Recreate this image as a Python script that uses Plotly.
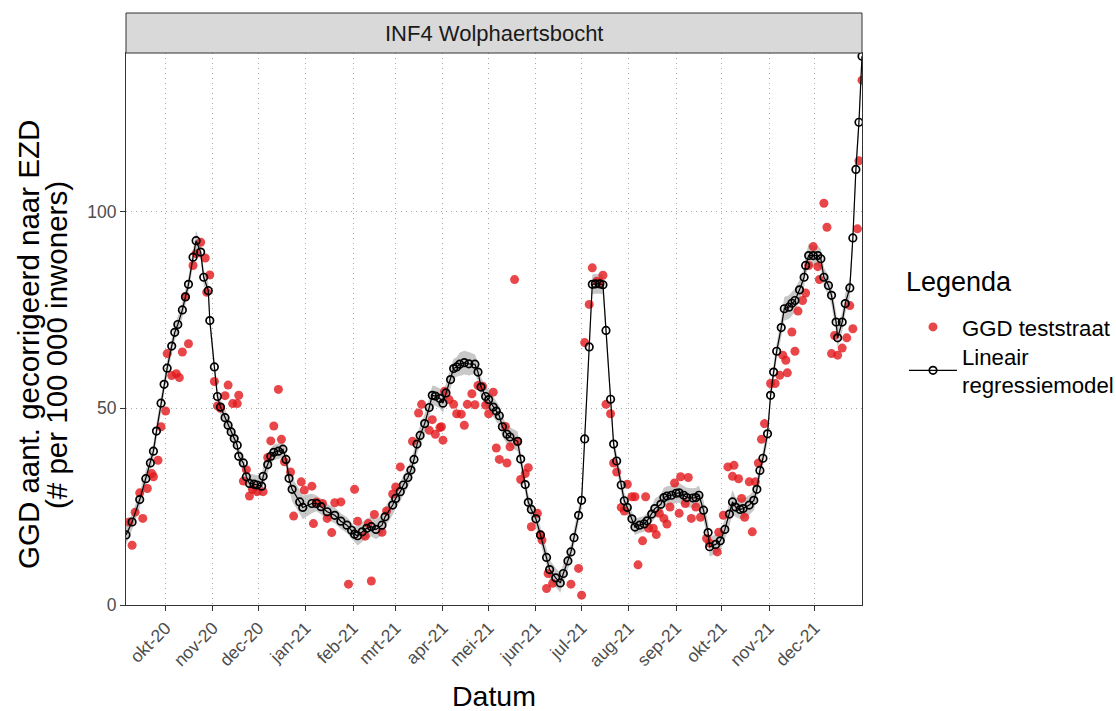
import plotly.graph_objects as go

# Facet label
station = "INF4 Wolphaertsbocht"

# Linear regression model: sampling dates, fitted value and half-width of the confidence band
model_dates = [
    "2020-09-05", "2020-09-09", "2020-09-14", "2020-09-18", "2020-09-21", "2020-09-23", "2020-09-25",
    "2020-09-28", "2020-09-30", "2020-10-02", "2020-10-05", "2020-10-07", "2020-10-09", "2020-10-12",
    "2020-10-14", "2020-10-16", "2020-10-19", "2020-10-21", "2020-10-24", "2020-10-26", "2020-10-29",
    "2020-10-30", "2020-11-02", "2020-11-04", "2020-11-06", "2020-11-09", "2020-11-11", "2020-11-13",
    "2020-11-15", "2020-11-17", "2020-11-18", "2020-11-21", "2020-11-23", "2020-11-25", "2020-11-28",
    "2020-11-30", "2020-12-03", "2020-12-04", "2020-12-07", "2020-12-09", "2020-12-11", "2020-12-14",
    "2020-12-17", "2020-12-19", "2020-12-21", "2020-12-23", "2020-12-28", "2020-12-30", "2021-01-05",
    "2021-01-08", "2021-01-11", "2021-01-15", "2021-01-20", "2021-01-24", "2021-01-28", "2021-01-31",
    "2021-02-02", "2021-02-04", "2021-02-07", "2021-02-10", "2021-02-13", "2021-02-16", "2021-02-20",
    "2021-02-22", "2021-02-27", "2021-03-01", "2021-03-04", "2021-03-06", "2021-03-09", "2021-03-11",
    "2021-03-13", "2021-03-15", "2021-03-17", "2021-03-20", "2021-03-23", "2021-03-25", "2021-03-27",
    "2021-03-30", "2021-04-01", "2021-04-03", "2021-04-06", "2021-04-08", "2021-04-10", "2021-04-12",
    "2021-04-15", "2021-04-18", "2021-04-22", "2021-04-24", "2021-04-26", "2021-04-29", "2021-05-01",
    "2021-05-04", "2021-05-06", "2021-05-08", "2021-05-10", "2021-05-13", "2021-05-15", "2021-05-20",
    "2021-05-22", "2021-05-25", "2021-05-27", "2021-05-29", "2021-06-01", "2021-06-04", "2021-06-08",
    "2021-06-10", "2021-06-14", "2021-06-17", "2021-06-19", "2021-06-22", "2021-06-24", "2021-06-26",
    "2021-06-29", "2021-07-01", "2021-07-03", "2021-07-06", "2021-07-08", "2021-07-10", "2021-07-13",
    "2021-07-15", "2021-07-17", "2021-07-20", "2021-07-22", "2021-07-24", "2021-07-27", "2021-07-29",
    "2021-07-31", "2021-08-03", "2021-08-05", "2021-08-08", "2021-08-11", "2021-08-13", "2021-08-16",
    "2021-08-18", "2021-08-22", "2021-08-24", "2021-08-26", "2021-08-29", "2021-09-01", "2021-09-03",
    "2021-09-06", "2021-09-08", "2021-09-12", "2021-09-14", "2021-09-16", "2021-09-19", "2021-09-22",
    "2021-09-23", "2021-09-27", "2021-09-30", "2021-10-03", "2021-10-06", "2021-10-08", "2021-10-10",
    "2021-10-13", "2021-10-15", "2021-10-19", "2021-10-22", "2021-10-24", "2021-10-26", "2021-10-28",
    "2021-10-31", "2021-11-02", "2021-11-04", "2021-11-06", "2021-11-09", "2021-11-11", "2021-11-14",
    "2021-11-16", "2021-11-18", "2021-11-21", "2021-11-24", "2021-11-25", "2021-11-27", "2021-11-30",
    "2021-12-03", "2021-12-05", "2021-12-07", "2021-12-10", "2021-12-12", "2021-12-15", "2021-12-16",
    "2021-12-19", "2021-12-21", "2021-12-24", "2021-12-26", "2021-12-28", "2021-12-30", "2022-01-01",
]
model_values = [
    17.8, 21.1, 26.8, 32.1, 36.1, 39.1, 44.2,
    51.3, 56.1, 60.2, 65.8, 69.3, 71.3, 75.0,
    78.3, 81.5, 88.4, 92.6, 89.7, 83.3, 79.9,
    72.3, 60.5, 53.0, 50.3, 47.6, 45.7, 44.0,
    42.3, 40.6, 37.8, 36.1, 32.6, 30.9, 30.7,
    30.5, 30.2, 32.7, 35.7, 37.8, 38.8, 39.1,
    39.6, 37.0, 32.2, 29.4, 26.2, 24.8, 25.8,
    25.8, 25.0, 23.7, 22.8, 21.3, 20.3, 19.0,
    18.0, 17.6, 18.6, 19.5, 19.9, 19.2, 20.3,
    22.4, 25.4, 27.1, 28.8, 30.5, 32.4, 34.3,
    37.0, 40.9, 43.1, 46.1, 50.2, 53.3, 53.1,
    52.5, 51.3, 53.9, 57.3, 60.1, 60.5, 61.2,
    61.6, 61.3, 61.2, 59.2, 55.4, 53.0, 52.2,
    50.3, 49.3, 48.1, 45.3, 43.4, 42.7, 41.6,
    37.1, 30.6, 26.1, 24.3, 21.9, 17.8, 12.1,
    9.0, 6.9, 5.6, 8.0, 11.2, 13.5, 17.1,
    22.8, 26.6, 42.2, 65.6, 81.5, 81.6, 81.6,
    81.4, 69.8, 52.3, 40.9, 36.6, 30.5, 26.5,
    24.8, 21.9, 19.8, 20.3, 20.6, 21.4, 23.1,
    24.5, 25.6, 27.3, 27.7, 27.9, 28.4, 28.5,
    27.9, 27.3, 27.2, 27.3, 27.9, 24.1, 18.4,
    14.8, 15.4, 16.3, 19.2, 23.1, 26.2, 24.9,
    24.3, 24.5, 25.4, 26.6, 29.4, 34.2, 37.3,
    43.5, 53.3, 59.2, 64.5, 70.5, 75.3, 75.7,
    76.7, 77.4, 80.1, 83.3, 86.3, 88.8, 88.8,
    88.8, 88.0, 83.3, 81.2, 78.7, 71.9, 67.9,
    71.9, 76.6, 80.6, 93.3, 110.7, 122.7, 139.5,
]
band_halfwidth = [
    2.5, 2.0, 2.0, 2.0, 2.0, 2.0, 2.0,
    2.0, 2.0, 2.0, 2.0, 2.0, 2.0, 2.0,
    2.0, 2.0, 2.0, 2.5, 2.0, 2.0, 2.0,
    2.0, 2.0, 2.0, 2.0, 2.0, 2.0, 2.0,
    2.0, 2.0, 2.0, 2.0, 2.0, 2.5, 2.5,
    2.5, 2.5, 2.5, 2.0, 2.0, 2.0, 2.0,
    2.0, 2.0, 2.5, 3.0, 3.0, 3.0, 2.5,
    2.0, 2.0, 2.0, 2.0, 2.0, 2.0, 2.0,
    2.0, 2.5, 2.5, 2.5, 2.5, 2.5, 2.5,
    2.5, 2.5, 2.5, 2.5, 2.5, 2.5, 2.5,
    2.5, 2.5, 2.5, 2.5, 2.5, 2.5, 2.5,
    2.5, 2.5, 2.5, 2.5, 2.5, 2.5, 3.0,
    3.0, 3.0, 2.5, 2.5, 2.5, 2.5, 2.5,
    2.5, 2.5, 2.5, 2.5, 2.5, 2.5, 2.5,
    2.0, 2.0, 2.0, 2.0, 2.0, 2.0, 2.0,
    2.5, 2.5, 2.5, 2.5, 2.0, 2.0, 2.0,
    2.0, 2.0, 2.0, 2.0, 2.5, 2.5, 2.5,
    2.5, 2.0, 2.0, 2.0, 2.0, 2.0, 2.0,
    2.0, 2.0, 2.0, 2.0, 2.0, 2.0, 2.0,
    2.5, 2.5, 2.5, 2.5, 2.5, 2.5, 2.5,
    2.5, 2.5, 2.5, 2.5, 2.5, 2.5, 2.5,
    2.5, 2.5, 2.5, 2.5, 3.0, 3.0, 2.5,
    2.5, 2.5, 2.5, 2.5, 2.5, 2.0, 2.0,
    2.0, 2.0, 2.0, 2.0, 2.5, 3.0, 3.0,
    3.0, 3.0, 2.5, 2.5, 2.5, 3.0, 2.5,
    2.5, 2.5, 2.5, 2.5, 2.5, 2.5, 2.5,
    2.5, 2.5, 2.5, 2.5, 2.5, 2.5, 2.5,
]

# GGD test street observations (corrected for population)
obs_dates = [
    "2020-09-07", "2020-09-09", "2020-09-11", "2020-09-14", "2020-09-16", "2020-09-19", "2020-09-22",
    "2020-09-23", "2020-09-26", "2020-09-28", "2020-10-01", "2020-10-02", "2020-10-05", "2020-10-08",
    "2020-10-10", "2020-10-12", "2020-10-14", "2020-10-16", "2020-10-19", "2020-10-21", "2020-10-24",
    "2020-10-27", "2020-10-28", "2020-10-30", "2020-11-02", "2020-11-04", "2020-11-06", "2020-11-09",
    "2020-11-11", "2020-11-14", "2020-11-17", "2020-11-18", "2020-11-21", "2020-11-23", "2020-11-25",
    "2020-11-27", "2020-11-30", "2020-12-04", "2020-12-07", "2020-12-09", "2020-12-11", "2020-12-14",
    "2020-12-16", "2020-12-18", "2020-12-22", "2020-12-24", "2020-12-29", "2020-12-31", "2021-01-05",
    "2021-01-06", "2021-01-08", "2021-01-12", "2021-01-15", "2021-01-18", "2021-01-20", "2021-01-24",
    "2021-01-29", "2021-02-02", "2021-02-04", "2021-02-09", "2021-02-11", "2021-02-13", "2021-02-15",
    "2021-02-20", "2021-02-23", "2021-02-27", "2021-03-01", "2021-03-04", "2021-03-12", "2021-03-16",
    "2021-03-18", "2021-03-23", "2021-03-25", "2021-03-27", "2021-03-30", "2021-03-31", "2021-04-01",
    "2021-04-02", "2021-04-05", "2021-04-08", "2021-04-10", "2021-04-13", "2021-04-15", "2021-04-17",
    "2021-04-20", "2021-04-22", "2021-04-24", "2021-04-27", "2021-04-29", "2021-05-01", "2021-05-04",
    "2021-05-06", "2021-05-08", "2021-05-12", "2021-05-13", "2021-05-15", "2021-05-18", "2021-05-20",
    "2021-05-22", "2021-05-25", "2021-05-27", "2021-05-29", "2021-06-02", "2021-06-04", "2021-06-05",
    "2021-06-08", "2021-06-09", "2021-06-12", "2021-06-24", "2021-06-29", "2021-07-01", "2021-07-03",
    "2021-07-06", "2021-07-08", "2021-07-11", "2021-07-13", "2021-07-15", "2021-07-17", "2021-07-20",
    "2021-07-22", "2021-07-24", "2021-07-27", "2021-07-29", "2021-07-31", "2021-08-03", "2021-08-05",
    "2021-08-07", "2021-08-10", "2021-08-12", "2021-08-14", "2021-08-17", "2021-08-19", "2021-08-21",
    "2021-08-24", "2021-08-26", "2021-08-28", "2021-08-31", "2021-09-03", "2021-09-04", "2021-09-07",
    "2021-09-09", "2021-09-11", "2021-09-14", "2021-09-17", "2021-09-21", "2021-09-23", "2021-09-28",
    "2021-09-29", "2021-10-02", "2021-10-05", "2021-10-08", "2021-10-09", "2021-10-12", "2021-10-14",
    "2021-10-16", "2021-10-19", "2021-10-21", "2021-10-23", "2021-10-25", "2021-10-27", "2021-10-29",
    "2021-11-02", "2021-11-05", "2021-11-08", "2021-11-10", "2021-11-12", "2021-11-13", "2021-11-16",
    "2021-11-18", "2021-11-20", "2021-11-23", "2021-11-25", "2021-11-27", "2021-11-30", "2021-12-03",
    "2021-12-04", "2021-12-07", "2021-12-09", "2021-12-12", "2021-12-14", "2021-12-16", "2021-12-19",
    "2021-12-22", "2021-12-24", "2021-12-26", "2021-12-29", "2021-12-30", "2022-01-01",
]
obs_values = [
    21.1, 15.2, 23.6, 28.5, 22.0, 29.6, 33.4,
    32.6, 36.8, 45.3, 49.3, 63.9, 58.3, 58.8,
    57.8, 64.3, 78.4, 66.4, 86.3, 89.3, 92.2,
    88.2, 79.5, 83.9, 56.8, 50.6, 50.0, 53.2,
    55.9, 51.2, 51.2, 53.3, 31.5, 34.4, 27.7,
    29.4, 28.8, 28.8, 37.5, 41.7, 45.5, 54.8,
    42.1, 36.4, 33.8, 22.6, 31.3, 29.2, 30.2,
    20.7, 26.2, 25.8, 22.0, 18.4, 26.0, 26.2,
    5.3, 29.4, 21.3, 17.5, 20.7, 6.1, 23.0,
    18.5, 23.9, 28.2, 30.0, 35.1, 41.6, 48.8,
    51.0, 44.4, 47.1, 43.4, 45.1, 45.3, 41.9,
    54.3, 52.2, 51.0, 48.6, 48.5, 45.7, 51.0,
    53.7, 50.9, 55.8, 55.6, 50.8, 48.6, 54.1,
    39.9, 37.0, 45.4, 36.1, 40.2, 82.7, 41.5,
    31.9, 33.4, 34.9, 19.9, 23.3, 17.8, 16.5,
    4.2, 8.0, 5.5, 5.3, 9.3, 2.5, 66.7,
    76.4, 85.7, 82.3, 81.9, 83.8, 51.0, 48.6,
    36.1, 33.8, 24.8, 23.9, 30.7, 27.5, 27.5,
    10.2, 16.3, 27.5, 19.5, 19.5, 17.9, 23.3,
    22.0, 20.6, 24.9, 31.0, 23.3, 32.6, 25.8,
    32.4, 22.0, 24.9, 22.3, 16.9, 15.7, 13.5,
    18.5, 22.8, 35.1, 32.7, 35.5, 32.1, 27.1,
    22.3, 31.3, 18.6, 31.3, 36.1, 42.1, 46.1,
    56.3, 56.3, 58.4, 63.5, 62.2, 59.0, 69.4,
    64.5, 74.7, 77.4, 79.3, 86.3, 91.1, 86.0,
    82.7, 102.1, 96.0, 63.9, 68.5, 63.5, 65.3,
    67.9, 76.1, 70.2, 95.6, 112.9, 133.4,
]

# Month ticks on the date axis
tick_dates = [
    "2020-10-01", "2020-11-01", "2020-12-01", "2021-01-01", "2021-02-01", "2021-03-01", "2021-04-01",
    "2021-05-01", "2021-06-01", "2021-07-01", "2021-08-01", "2021-09-01", "2021-10-01", "2021-11-01",
    "2021-12-01",
]
tick_labels = [
    "okt-20", "nov-20", "dec-20", "jan-21", "feb-21", "mrt-21", "apr-21",
    "mei-21", "jun-21", "jul-21", "aug-21", "sep-21", "okt-21", "nov-21",
    "dec-21",
]
y_ticks = [0, 50, 100]

x_title = "Datum"
y_title_lines = ["GGD aant. gecorrigeerd naar EZD", "(# per 100 000 inwoners)"]
legend_title = "Legenda"

band_low = [v - h for v, h in zip(model_values, band_halfwidth)]
band_high = [v + h for v, h in zip(model_values, band_halfwidth)]

FONT = "Liberation Sans, Arial, sans-serif"
W, H = 1116, 711
M_L, M_R, M_T, M_B = 126, 254, 53, 106
panel_w = W - M_L - M_R
panel_h = H - M_T - M_B
strip_h = 40


def px_x(x_px):
    """Horizontal pixel position -> paper coordinate."""
    return (x_px - M_L) / panel_w


def px_y(y_px):
    """Vertical pixel position (from top) -> paper coordinate."""
    return (H - M_B - y_px) / panel_h


fig = go.Figure()

# confidence band of the regression model
fig.add_trace(go.Scatter(
    x=model_dates, y=band_low, mode="lines", line=dict(width=0),
    showlegend=False, hoverinfo="skip",
))
fig.add_trace(go.Scatter(
    x=model_dates, y=band_high, mode="lines", line=dict(width=0),
    fill="tonexty", fillcolor="rgba(145,145,145,0.5)",
    showlegend=False, hoverinfo="skip",
))

# observations
fig.add_trace(go.Scatter(
    x=obs_dates, y=obs_values, mode="markers", name="GGD teststraat",
    marker=dict(color="rgba(226,24,28,0.8)", size=9, line=dict(width=0)),
    legend="legend",
))

# regression model
fig.add_trace(go.Scatter(
    x=model_dates, y=model_values, mode="lines+markers",
    name="Lineair<br>regressiemodel",
    line=dict(color="black", width=1.2),
    marker=dict(symbol="circle-open", size=7.5, color="black", line=dict(width=1.7)),
    legend="legend2",
))

axis_common = dict(
    showline=True, linecolor="#333333", linewidth=1, mirror=True,
    ticks="outside", ticklen=5, tickcolor="#333333", tickwidth=1,
    showgrid=True, gridcolor="#a6a6a6", gridwidth=1.2, griddash="1.2px,3.8px",
    zeroline=False,
    tickfont=dict(family=FONT, size=17.5, color="#4D4D4D"),
)

annotations = [
    # facet strip label
    dict(text=station, xref="paper", yref="paper", x=0.5, y=1 + strip_h / (2 * panel_h),
         showarrow=False, font=dict(family=FONT, size=22, color="#1A1A1A"),
         xanchor="center", yanchor="middle"),
    # x-axis title
    dict(text=x_title, xref="paper", yref="paper", x=0.5, y=px_y(696),
         showarrow=False, font=dict(family=FONT, size=28.5, color="black"),
         xanchor="center", yanchor="middle"),
    # legend title
    dict(text=legend_title, xref="paper", yref="paper", x=px_x(904), y=px_y(282),
         showarrow=False, font=dict(family=FONT, size=27, color="black"),
         xanchor="left", yanchor="middle"),
]
# y-axis title, two lines set close together
for line_text, x_px in zip(y_title_lines, [28, 56]):
    annotations.append(dict(
        text=line_text, xref="paper", yref="paper",
        x=px_x(x_px), y=px_y(345),
        showarrow=False, textangle=-90, font=dict(family=FONT, size=29.5, color="black"),
        xanchor="center", yanchor="middle",
    ))

legend_common = dict(
    font=dict(family=FONT, size=22.2, color="black"),
    x=px_x(904), xanchor="left", yanchor="top",
    bgcolor="rgba(0,0,0,0)", itemwidth=48,
)

fig.update_layout(
    width=W, height=H,
    margin=dict(l=M_L, r=M_R, t=M_T, b=M_B, autoexpand=False),
    template="none",
    paper_bgcolor="white", plot_bgcolor="white",
    font=dict(family=FONT, color="black"),
    xaxis=dict(
        type="date", range=["2020-09-05", "2022-01-01"],
        tickmode="array", tickvals=tick_dates, ticktext=tick_labels, tickangle=-45,
        **axis_common,
    ),
    yaxis=dict(
        range=[0, 140.3], tickmode="array", tickvals=y_ticks,
        **axis_common,
    ),
    legend=dict(y=px_y(306), **legend_common),
    legend2=dict(y=px_y(335), **legend_common),
    shapes=[dict(
        type="rect", xref="paper", yref="paper",
        x0=0, x1=1, y0=1, y1=1 + strip_h / panel_h,
        fillcolor="#D9D9D9", line=dict(color="#333333", width=1), layer="above",
    )],
    annotations=annotations,
    hovermode=False,
)

fig.write_html("out.html")
